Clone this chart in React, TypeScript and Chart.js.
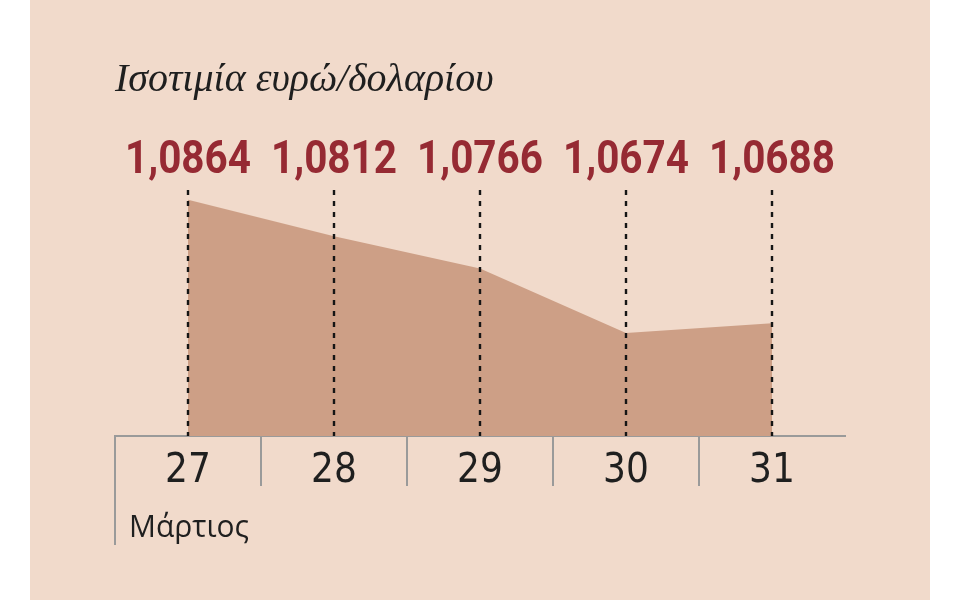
import React, { useEffect, useRef } from "react";
import Chart from "chart.js/auto";

// Ισοτιμία ευρώ/δολαρίου, 27-31 Μαρτίου
const days = ["27", "28", "29", "30", "31"];
const rates = [1.0864, 1.0812, 1.0766, 1.0674, 1.0688];
const rateLabels = ["1,0864", "1,0812", "1,0766", "1,0674", "1,0688"];
const chartTitle = "Ισοτιμία ευρώ/δολαρίου";
const monthLabel = "Μάρτιος";
const yMin = 1.0527;
const yMax = 1.0878;

const BG = "#f1dacb";
const FILL = "#cd9f86";
const RED = "#962a33";
const INK = "#1f1f1f";
const RULE = "#9a9a9a";
const NARROW = '"Liberation Sans Narrow", "DejaVu Sans Condensed", sans-serif';

// dashed guides, values above them, month label and the long left rule
const marksPlugin = {
  id: "rateMarks",
  afterDatasetsDraw(chart: Chart) {
    const { ctx, chartArea } = chart;
    const meta = chart.getDatasetMeta(0);
    ctx.save();
    ctx.setLineDash([5, 6]);
    ctx.lineWidth = 2.4;
    ctx.strokeStyle = "#151515";
    meta.data.forEach((pt: any) => {
      const px = Math.round(pt.x);
      ctx.beginPath();
      ctx.moveTo(px, chartArea.top);
      ctx.lineTo(px, chartArea.bottom);
      ctx.stroke();
    });
    ctx.setLineDash([]);

    ctx.font = "bold 46px Roboto";
    ctx.fillStyle = RED;
    ctx.textAlign = "center";
    ctx.textBaseline = "alphabetic";
    rateLabels.forEach((t, i) => {
      const pt: any = meta.data[i];
      ctx.fillText(t, pt.x, chartArea.top - 17, 126);
    });
    ctx.restore();
  },
  afterDraw(chart: Chart) {
    const { ctx, chartArea } = chart;
    const x = chart.scales.x;
    ctx.save();
    ctx.strokeStyle = RULE;
    ctx.lineWidth = 2;
    ctx.beginPath();
    ctx.moveTo(x.left, chartArea.bottom);
    ctx.lineTo(x.left, 545);
    ctx.stroke();

    ctx.font = '31px "Open Sans"';
    ctx.fillStyle = INK;
    ctx.textAlign = "left";
    ctx.textBaseline = "alphabetic";
    ctx.fillText(monthLabel, x.left + 14, 537, 120);
    ctx.restore();
  },
};

const RateChart: React.FC = () => {
  const canvasRef = useRef<HTMLCanvasElement>(null);
  const chartInstance = useRef<Chart | null>(null);

  useEffect(() => {
    const ctx = canvasRef.current?.getContext("2d");
    if (!ctx) return;

    if (chartInstance.current) {
      chartInstance.current.destroy();
    }

    chartInstance.current = new Chart(ctx, {
      type: "line",
      data: {
        labels: days,
        datasets: [
          {
            data: rates,
            fill: "start",
            backgroundColor: FILL,
            borderWidth: 0,
            pointRadius: 0,
            tension: 0,
          },
        ],
      },
      options: {
        responsive: false,
        animation: false,
        layout: { padding: { left: 85, right: 85, top: 0, bottom: 0 } },
        plugins: {
          legend: { display: false },
          tooltip: { enabled: false },
          title: {
            display: true,
            text: chartTitle,
            align: "start",
            color: INK,
            font: { family: '"Liberation Serif", serif', style: "italic", size: 40, weight: "normal", lineHeight: 1.2 },
            padding: { top: 56, bottom: 86 },
          },
        },
        scales: {
          x: {
            z: 1,
            offset: true,
            grid: {
              offset: true,
              drawOnChartArea: false,
              drawTicks: true,
              tickLength: 50,
              lineWidth: 2,
              // no separator after the last day
              color: (c: any) => (c.tick ? RULE : "rgba(0,0,0,0)"),
            },
            border: { display: true, color: RULE, width: 2 },
            ticks: {
              color: INK,
              padding: -38,
              font: { family: NARROW, size: 40 },
            },
            afterFit: (scale: any) => {
              scale.height = 164;
            },
          },
          y: {
            display: false,
            min: yMin,
            max: yMax,
          },
        },
      },
      plugins: [marksPlugin],
    });

    return () => {
      if (chartInstance.current) {
        chartInstance.current.destroy();
        chartInstance.current = null;
      }
    };
  }, []);

  return <canvas ref={canvasRef} width={900} height={600} />;
};

export default function App() {
  return (
    <div style={{ position: "fixed", left: 0, top: 0, width: 960, height: 600, background: "#fff" }}>
      <div style={{ position: "absolute", left: 30, top: 0, width: 900, height: 600, background: BG }}>
        <RateChart />
      </div>
    </div>
  );
}
